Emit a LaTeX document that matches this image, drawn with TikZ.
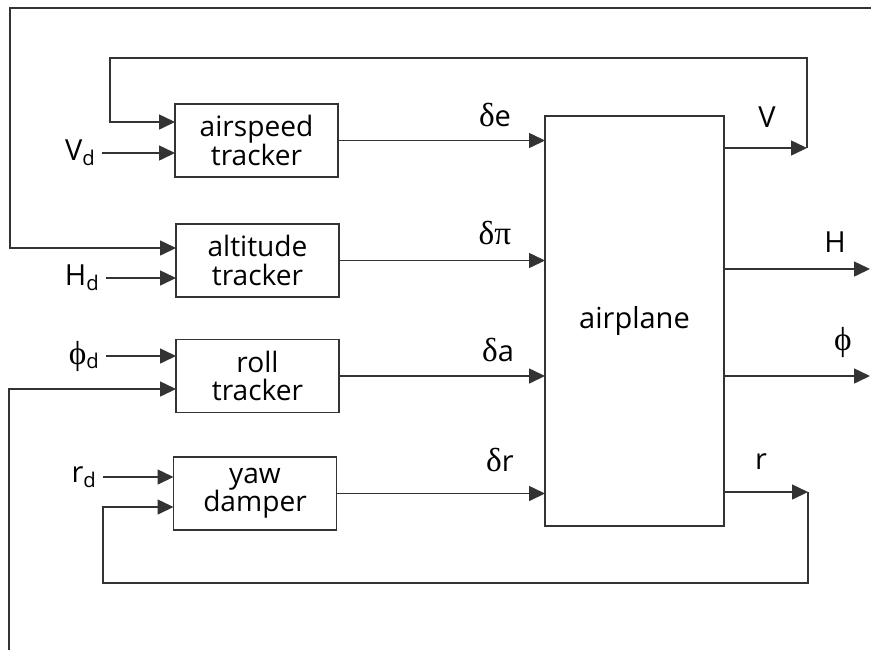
\documentclass[tikz,border=0pt]{standalone}
\usepackage{fontspec}
\setmainfont{Open Sans}
\newfontfamily\greekfont[Scale=1.15]{Liberation Serif}
\usetikzlibrary{arrows.meta}
\begin{document}
\begin{tikzpicture}[x=0.02cm,y=-0.02cm,
    block/.style={draw=black!80,line width=0.03cm,minimum width=3.26cm,minimum height=1.46cm,inner sep=0pt,outer sep=0pt,align=center,font=\fontsize{16}{16}\selectfont},
    sig/.style={draw=black!80,line width=0.03cm,-{Triangle[length=0.32cm,width=0.3cm]}},
    lbl/.style={inner sep=0pt,font=\fontsize{16.5}{16}\selectfont}]
    \useasboundingbox (0,0) rectangle (871,650);
    \node[block] (as) at (256.5,140.5) {airspeed\\tracker};
    \node[block] (alt) at (257.5,260.5) {altitude\\tracker};
    \node[block] (roll) at (257.5,376) {roll\\tracker};
    \node[block] (yaw) at (255,493.5) {yaw\\damper};
    \node[block,minimum width=3.58cm,minimum height=8.2cm,font=\fontsize{16.5}{16}\selectfont] (plane) at (634.5,321) {airplane};
    \draw[sig] (as.east) -- (as.east -| plane.west);
    \draw[sig] (alt.east) -- (alt.east -| plane.west);
    \draw[sig] (roll.east) -- (roll.east -| plane.west);
    \draw[sig] (yaw.east) -- (yaw.east -| plane.west);
    \node[lbl] (de) at (495,115) {{\greekfont δ}e};
    \node[lbl] (dpi) at (495,233) {{\greekfont δπ}};
    \node[lbl] (da) at (498,350) {{\greekfont δ}a};
    \node[lbl] (dr) at (500,460) {{\greekfont δ}r};
    \coordinate (vdIn) at (102,153);
    \coordinate (hdIn) at (106,278);
    \coordinate (phidIn) at (106,356);
    \coordinate (rdIn) at (103,477);
    \node[lbl,anchor=east] (vd) at ([xshift=-0.12cm]vdIn) {V\textsubscript{d}};
    \node[lbl,anchor=east] (hd) at ([xshift=-0.12cm]hdIn) {H\textsubscript{d}};
    \node[lbl,anchor=east] (phid) at ([xshift=-0.12cm]phidIn) {{\greekfont ϕ}\textsubscript{d}};
    \node[lbl,anchor=east] (rd) at ([xshift=-0.12cm]rdIn) {r\textsubscript{d}};
    \draw[sig] (vdIn) -- (vdIn -| as.west);
    \draw[sig] (hdIn) -- (hdIn -| alt.west);
    \draw[sig] (phidIn) -- (phidIn -| roll.west);
    \draw[sig] (rdIn) -- (rdIn -| yaw.west);
    \coordinate (vEnd) at (807,148);
    \coordinate (vTop) at (807,58);
    \coordinate (asFb) at (110,122);
    \draw[sig] (vEnd -| plane.east) -- (vEnd);
    \draw[sig] (vEnd) -- (vTop) -- (vTop -| asFb) -- (asFb) -- (asFb -| as.west);
    \coordinate (topR) at (871,8);
    \coordinate (altFb) at (10,248);
    \draw[sig] (topR) -- (topR -| altFb) -- (altFb) -- (altFb -| alt.west);
    \coordinate (botL) at (9,650);
    \coordinate (rollFb) at (9,389);
    \draw[sig] (botL) -- (rollFb) -- (rollFb -| roll.west);
    \coordinate (hEnd) at (870,269);
    \coordinate (phiEnd) at (870,376);
    \draw[sig] (hEnd -| plane.east) -- (hEnd);
    \draw[sig] (phiEnd -| plane.east) -- (phiEnd);
    \coordinate (rEnd) at (808,492);
    \coordinate (rBot) at (808,583);
    \coordinate (yawFb) at (103,507);
    \draw[sig] (rEnd -| plane.east) -- (rEnd);
    \draw[sig] (rEnd) -- (rBot) -- (rBot -| yawFb) -- (yawFb) -- (yawFb -| yaw.west);
    \node[lbl] (vlbl) at (767,117) {V};
    \node[lbl] (hlbl) at (835,242) {H};
    \node[lbl] (philbl) at (843,342) {{\greekfont ϕ}};
    \node[lbl] (rlbl) at (761,462) {r};
\end{tikzpicture}
\end{document}
